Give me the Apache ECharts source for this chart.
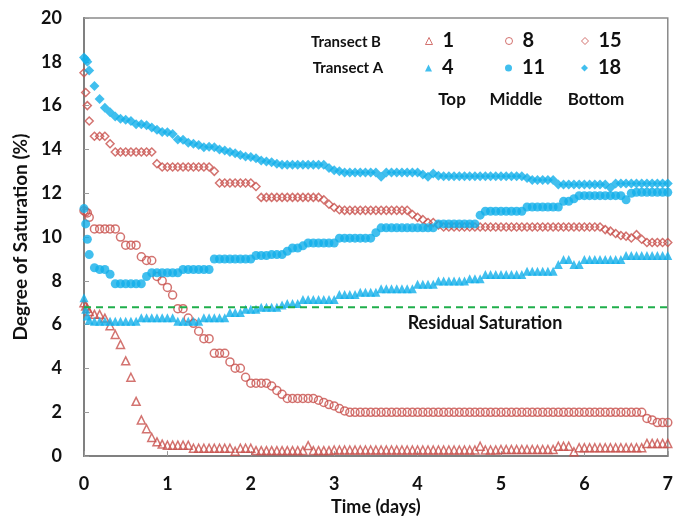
<!DOCTYPE html>
<html>
<head>
<meta charset="utf-8">
<title>Degree of Saturation</title>
<script src="https://cdn.jsdelivr.net/npm/echarts@6/dist/echarts.min.js"></script>
<style>
  html, body { margin: 0; padding: 0; background: #fff; }
  #chart { width: 676px; height: 521px; }
</style>
</head>
<body>
<div id="chart"></div>
<script>
// Sampling times (days): three quick readings right after start, then the logger's 1.5 h interval
const EARLY_DAYS = [0, 0.02, 0.04];
const LOG_STEP_HOURS = 1.5;
const LOG_COUNT = 112;
const days = EARLY_DAYS.concat(Array.from({ length: LOG_COUNT }, (_, k) => (k + 1) * LOG_STEP_HOURS / 24));

// Transect B, sensor 1 (top)
const sensor1 = [
  7.0, 6.85, 6.75,
  6.6, 6.47, 6.47, 6.3, 5.95, 5.55, 5.1, 4.35, 3.6, 2.5, 1.65, 1.25, 0.85, 0.65, 0.55,
  0.5, 0.5, 0.5, 0.5, 0.5, 0.36, 0.36, 0.36, 0.36, 0.36, 0.36, 0.36, 0.36, 0.22, 0.36, 0.36,
  0.36, 0.25, 0.25, 0.25, 0.25, 0.25, 0.25, 0.25, 0.25, 0.25, 0.25, 0.48, 0.25, 0.25, 0.25, 0.25,
  0.28, 0.28, 0.28, 0.28, 0.28, 0.28, 0.28, 0.28, 0.28, 0.28, 0.28, 0.28, 0.28, 0.28, 0.28, 0.28,
  0.28, 0.28, 0.28, 0.28, 0.28, 0.28, 0.28, 0.28, 0.28, 0.28, 0.28, 0.28, 0.45, 0.28, 0.28, 0.28,
  0.3, 0.3, 0.3, 0.3, 0.3, 0.3, 0.3, 0.3, 0.3, 0.3, 0.3, 0.45, 0.45, 0.45, 0.2, 0.38,
  0.38, 0.38, 0.38, 0.38, 0.38, 0.38, 0.38, 0.38, 0.38, 0.38, 0.38, 0.38, 0.58, 0.58, 0.58, 0.58,
  0.58
];

// Transect B, sensor 8 (middle)
const sensor8 = [
  11.2, 11.15, 11.1,
  10.9, 10.37, 10.37, 10.37, 10.37, 10.37, 10.0, 9.63, 9.63, 9.63, 9.1, 8.93, 8.93, 8.2, 8.0,
  7.7, 7.35, 6.73, 6.73, 6.3, 6.06, 5.7, 5.36, 5.36, 4.69, 4.69, 4.69, 4.3, 4.01, 4.01, 3.6,
  3.33, 3.33, 3.33, 3.33, 3.2, 3.0, 2.82, 2.63, 2.63, 2.63, 2.63, 2.63, 2.63, 2.55, 2.45, 2.35,
  2.29, 2.17, 2.06, 2.0, 2.0, 2.0, 2.0, 2.0, 2.0, 2.0, 2.0, 2.0, 2.0, 2.0, 2.0, 2.0,
  2.0, 2.0, 2.0, 2.0, 2.0, 2.0, 2.0, 2.0, 2.0, 2.0, 2.0, 2.0, 2.0, 2.0, 2.0, 2.0,
  2.0, 2.0, 2.0, 2.0, 2.0, 2.0, 2.0, 2.0, 2.0, 2.0, 2.0, 2.0, 2.0, 2.0, 2.0, 2.0,
  2.0, 2.0, 2.0, 2.0, 2.0, 2.0, 2.0, 2.0, 2.0, 2.0, 2.0, 2.0, 1.72, 1.65, 1.53, 1.53,
  1.53
];

// Transect B, sensor 15 (bottom)
const sensor15 = [
  17.5, 16.6, 16.0,
  15.3, 14.6, 14.6, 14.6, 14.26, 13.88, 13.88, 13.88, 13.88, 13.88, 13.88, 13.88, 13.88, 13.35, 13.2,
  13.2, 13.2, 13.2, 13.2, 13.2, 13.2, 13.2, 13.2, 13.2, 13.0, 12.47, 12.47, 12.47, 12.47, 12.47, 12.47,
  12.47, 12.31, 11.81, 11.81, 11.81, 11.81, 11.81, 11.81, 11.81, 11.81, 11.81, 11.81, 11.81, 11.81, 11.7, 11.5,
  11.35, 11.25, 11.22, 11.22, 11.22, 11.22, 11.22, 11.22, 11.22, 11.22, 11.22, 11.22, 11.22, 11.22, 11.22, 11.03,
  10.9, 10.8, 10.66, 10.66, 10.55, 10.46, 10.46, 10.46, 10.46, 10.46, 10.46, 10.46, 10.46, 10.46, 10.46, 10.46,
  10.46, 10.46, 10.46, 10.46, 10.46, 10.46, 10.46, 10.46, 10.46, 10.46, 10.46, 10.46, 10.46, 10.46, 10.46, 10.46,
  10.46, 10.46, 10.46, 10.46, 10.34, 10.27, 10.16, 10.07, 10.04, 9.96, 10.11, 9.9, 9.75, 9.75, 9.75, 9.75,
  9.75
];

// Transect A, sensor 4 (top)
const sensor4 = [
  7.23, 6.7, 6.4,
  6.2, 6.16, 6.16, 6.16, 6.16, 6.16, 6.16, 6.16, 6.16, 6.16, 6.32, 6.32, 6.32, 6.32, 6.32,
  6.32, 6.32, 6.16, 6.16, 6.16, 6.16, 6.16, 6.32, 6.32, 6.32, 6.32, 6.32, 6.55, 6.55, 6.55, 6.7,
  6.7, 6.7, 6.8, 6.8, 6.8, 6.8, 6.9, 6.97, 6.97, 6.97, 7.15, 7.15, 7.15, 7.15, 7.15, 7.15,
  7.15, 7.38, 7.38, 7.38, 7.38, 7.48, 7.48, 7.48, 7.48, 7.64, 7.64, 7.64, 7.64, 7.64, 7.64, 7.64,
  7.84, 7.84, 7.84, 7.84, 7.99, 7.99, 7.99, 7.99, 7.99, 7.99, 8.1, 8.1, 8.1, 8.29, 8.29, 8.29,
  8.29, 8.29, 8.29, 8.29, 8.29, 8.44, 8.44, 8.44, 8.44, 8.44, 8.44, 8.75, 8.98, 8.98, 8.75, 8.75,
  8.98, 8.98, 8.98, 8.98, 8.98, 8.98, 8.98, 8.98, 9.16, 9.16, 9.16, 9.16, 9.16, 9.16, 9.16, 9.16,
  9.16
];

// Transect A, sensor 11 (middle)
const sensor11 = [
  11.3, 10.6, 9.9,
  9.2, 8.6, 8.52, 8.52, 8.3, 7.87, 7.87, 7.87, 7.87, 7.87, 7.87, 8.2, 8.37, 8.37, 8.37,
  8.37, 8.37, 8.37, 8.52, 8.52, 8.52, 8.52, 8.52, 8.52, 9.0, 9.0, 9.0, 9.0, 9.0, 9.0, 9.0,
  9.0, 9.16, 9.16, 9.16, 9.2, 9.2, 9.2, 9.35, 9.5, 9.5, 9.6, 9.73, 9.73, 9.73, 9.73, 9.73,
  9.73, 9.95, 9.95, 9.95, 9.95, 9.95, 9.95, 9.95, 10.2, 10.42, 10.42, 10.42, 10.42, 10.42, 10.42, 10.42,
  10.42, 10.42, 10.42, 10.42, 10.6, 10.6, 10.6, 10.6, 10.6, 10.6, 10.6, 10.6, 11.0, 11.18, 11.18, 11.18,
  11.18, 11.18, 11.18, 11.18, 11.18, 11.37, 11.37, 11.37, 11.37, 11.37, 11.37, 11.37, 11.63, 11.63, 11.75, 11.89,
  11.89, 11.89, 11.89, 11.89, 11.89, 11.89, 11.89, 11.89, 11.7, 12.0, 12.04, 12.04, 12.04, 12.04, 12.04, 12.04,
  12.04
];

// Transect A, sensor 18 (bottom)
const sensor18 = [
  18.2, 18.1, 18.0,
  17.6, 16.9, 16.3, 15.9, 15.7, 15.5, 15.4, 15.35, 15.3, 15.15, 15.15, 15.1, 15.0, 14.9, 14.8,
  14.78, 14.7, 14.45, 14.44, 14.3, 14.26, 14.2, 14.1, 14.12, 14.1, 14.0, 13.95, 13.88, 13.82, 13.75, 13.68,
  13.65, 13.6, 13.5, 13.45, 13.42, 13.35, 13.3, 13.3, 13.3, 13.3, 13.3, 13.3, 13.3, 13.3, 13.3, 13.15,
  13.05, 13.0, 12.95, 12.95, 12.95, 12.95, 12.95, 12.95, 12.95, 12.75, 12.95, 12.95, 12.95, 12.95, 12.95, 12.95,
  12.95, 12.85, 12.75, 12.9, 12.8, 12.78, 12.78, 12.78, 12.78, 12.78, 12.78, 12.78, 12.78, 12.78, 12.78, 12.78,
  12.78, 12.78, 12.78, 12.78, 12.78, 12.7, 12.6, 12.6, 12.6, 12.6, 12.6, 12.4, 12.4, 12.4, 12.4, 12.4,
  12.4, 12.4, 12.4, 12.4, 12.4, 12.25, 12.45, 12.45, 12.45, 12.45, 12.45, 12.45, 12.45, 12.45, 12.45, 12.45,
  12.45
];

// Residual saturation level (%)
const residualSaturation = 6.8;
const residualSpan = [0, 7];

// Axis ticks
const xTicks = { min: 0, max: 7, interval: 1 };
const yTicks = { min: 0, max: 20, interval: 2 };

const FONT = 'Lato';
const RED = '#C8504C';
const BLUE = '#12AFEA';
const GREEN = '#1FAE4B';
const INK = '#111';

const pairs = vals => days.map((t, i) => [t, vals[i]]);

function hollow(name, symbol, size, vals) {
  return {
    name, type: 'scatter', symbol, symbolSize: size,
    itemStyle: { color: 'rgba(255,255,255,0)', borderColor: RED, borderWidth: 1.5 },
    data: pairs(vals), silent: true
  };
}
function filled(name, symbol, size, vals) {
  return {
    name, type: 'scatter', symbol, symbolSize: size,
    itemStyle: { color: BLUE },
    data: pairs(vals), silent: true
  };
}

function legendAt(name, left, top) {
  return {
    data: [name], left, top, padding: 0, itemWidth: 7, itemHeight: 7,
    selectedMode: false,
    itemStyle: { borderWidth: 1 },
    textStyle: { fontFamily: FONT, fontSize: 20, fontWeight: 'bold', color: INK, lineHeight: 22, padding: [0, 0, 0, 5] }
  };
}

function label(text, x, y, size) {
  return {
    type: 'text', x, y, silent: true,
    style: { text, fill: INK, font: 'bold ' + size + 'px ' + FONT, align: 'center', verticalAlign: 'middle' }
  };
}

const chart = echarts.init(document.getElementById('chart'));
chart.setOption({
  animation: false,
  backgroundColor: '#fff',
  grid: { left: 84, right: 5, top: 18, bottom: 64, show: true, borderColor: '#8a8a8a', borderWidth: 1.5 },
  xAxis: {
    type: 'value', min: xTicks.min, max: xTicks.max, interval: xTicks.interval,
    name: 'Time (days)', nameLocation: 'middle', nameGap: 37,
    nameTextStyle: { fontFamily: FONT, fontSize: 18, fontWeight: 'bold', color: INK },
    axisLine: { lineStyle: { color: '#808080', width: 2 } },
    axisTick: { inside: true, length: 5, lineStyle: { color: '#9a9a9a' } },
    axisLabel: { margin: 19, fontFamily: FONT, fontSize: 18, fontWeight: 'bold', color: INK },
    splitLine: { show: false }
  },
  yAxis: {
    type: 'value', min: yTicks.min, max: yTicks.max, interval: yTicks.interval,
    name: 'Degree of Saturation (%)', nameLocation: 'middle', nameGap: 47,
    nameTextStyle: { fontFamily: FONT, fontSize: 19, fontWeight: 'bold', color: INK },
    axisLine: { lineStyle: { color: '#808080', width: 2 } },
    axisTick: { inside: true, length: 5, lineStyle: { color: '#9a9a9a' } },
    axisLabel: { margin: 22, fontFamily: FONT, fontSize: 18, fontWeight: 'bold', color: INK },
    splitLine: { show: false }
  },
  legend: [
    legendAt('1', 425, 30), legendAt('8', 505, 30), legendAt('15', 581, 30),
    legendAt('4', 425, 57), legendAt('11', 505, 57), legendAt('18', 581, 57)
  ],
  graphic: [
    label('Transect B', 346, 42, 15),
    label('Transect A', 348, 68, 15),
    label('Top', 452, 100, 17),
    label('Middle', 516, 100, 17),
    label('Bottom', 596, 100, 17),
    label('Residual Saturation', 485, 323, 18)
  ],
  series: [
    {
      name: 'Residual Saturation', type: 'line', symbol: 'none', silent: true,
      data: residualSpan.map(t => [t, residualSaturation]),
      lineStyle: { color: GREEN, width: 2, type: [7, 5] }
    },
    hollow('1', 'triangle', 8, sensor1),
    hollow('8', 'circle', 8, sensor8),
    hollow('15', 'diamond', 8, sensor15),
    filled('4', 'triangle', 9, sensor4),
    filled('11', 'circle', 9, sensor11),
    filled('18', 'diamond', 10, sensor18)
  ]
});
</script>
</body>
</html>
